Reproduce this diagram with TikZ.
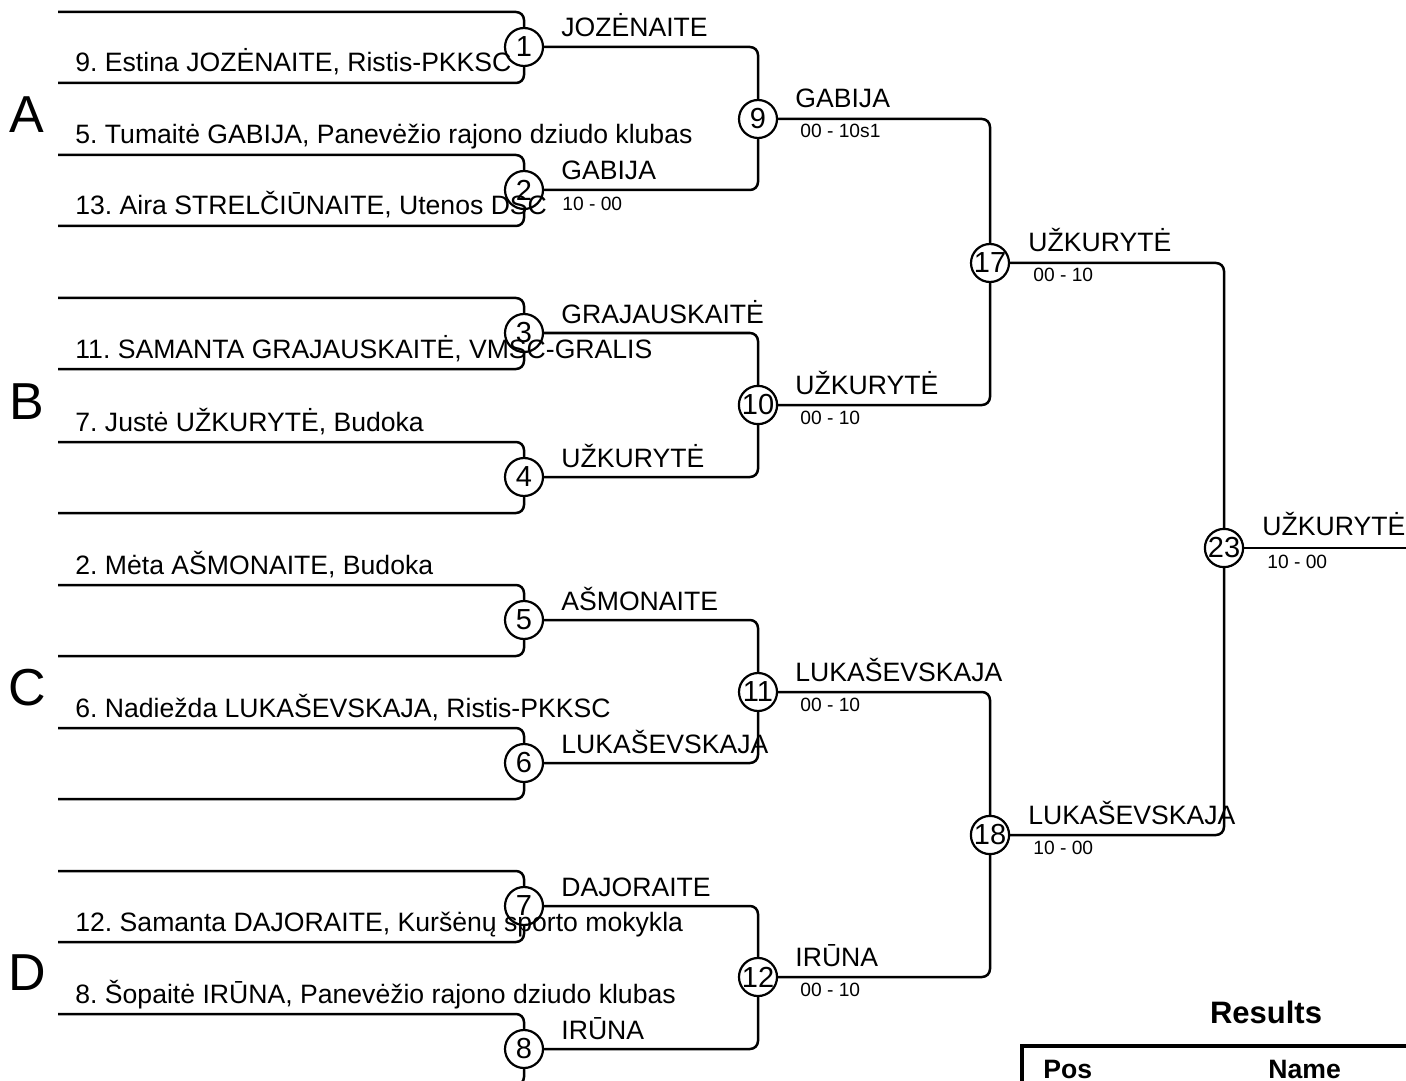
\documentclass[tikz,border=0pt]{standalone}
\usepackage{fontspec}
\setmainfont{Liberation Sans}
\usetikzlibrary{positioning}
\frenchspacing

\tikzset{
  bout/.style={circle, draw, line width=1.1pt, minimum size=19pt, inner sep=0pt, font=\fontsize{14.5}{15}\selectfont},
  player/.style={anchor=base west, inner sep=0pt, font=\fontsize{13.3}{14}\selectfont},
  winner/.style={anchor=base west, inner sep=0pt, font=\fontsize{13.3}{14}\selectfont},
  score/.style={anchor=base west, inner sep=0pt, font=\fontsize{9.6}{10}\selectfont},
  group/.style={anchor=base, inner sep=0pt, font=\fontsize{26}{28}\selectfont},
  wire/.style={line width=1.25pt, rounded corners=4pt},
}

\begin{document}
\begin{tikzpicture}[x=0.5pt, y=-0.5pt]
		\useasboundingbox (0,0) rectangle (1406,1080);

		% pool letters
		\node[group] (ga) at (27,133) {A};
		\node[group] (gb) at (27,419) {B};
		\node[group] (gc) at (27,705) {C};
		\node[group] (gd) at (27,990) {D};

		% slot ends
		\coordinate (s1a) at (58,12);
		\coordinate (s1b) at (58,83);
		\coordinate (s2a) at (58,155);
		\coordinate (s2b) at (58,226);
		\coordinate (s3a) at (58,298);
		\coordinate (s3b) at (58,369);
		\coordinate (s4a) at (58,442);
		\coordinate (s4b) at (58,513);
		\coordinate (s5a) at (58,585);
		\coordinate (s5b) at (58,656);
		\coordinate (s6a) at (58,728);
		\coordinate (s6b) at (58,799);
		\coordinate (s7a) at (58,871);
		\coordinate (s7b) at (58,942);
		\coordinate (s8a) at (58,1014);
		\coordinate (s8b) at (58,1085);
		\coordinate (fin) at (1406,548);

		% bouts
		\node[bout] (b1) at (524,47) {1};
		\node[bout] (b2) at (524,190) {2};
		\node[bout] (b3) at (524,333) {3};
		\node[bout] (b4) at (524,477) {4};
		\node[bout] (b5) at (524,620) {5};
		\node[bout] (b6) at (524,763) {6};
		\node[bout] (b7) at (524,906) {7};
		\node[bout] (b8) at (524,1049) {8};
		\node[bout] (b9) at (758,119) {9};
		\node[bout] (b10) at (758,405) {10};
		\node[bout] (b11) at (758,692) {11};
		\node[bout] (b12) at (758,977) {12};
		\node[bout] (b17) at (990,263) {17};
		\node[bout] (b18) at (990,835) {18};
		\node[bout] (b23) at (1224,548) {23};

		\draw[wire] (s1a) -- (s1a -| b1) -- (b1);
		\draw[wire] (s1b) -- (s1b -| b1) -- (b1);
		\draw[wire] (s2a) -- (s2a -| b2) -- (b2);
		\draw[wire] (s2b) -- (s2b -| b2) -- (b2);
		\draw[wire] (s3a) -- (s3a -| b3) -- (b3);
		\draw[wire] (s3b) -- (s3b -| b3) -- (b3);
		\draw[wire] (s4a) -- (s4a -| b4) -- (b4);
		\draw[wire] (s4b) -- (s4b -| b4) -- (b4);
		\draw[wire] (s5a) -- (s5a -| b5) -- (b5);
		\draw[wire] (s5b) -- (s5b -| b5) -- (b5);
		\draw[wire] (s6a) -- (s6a -| b6) -- (b6);
		\draw[wire] (s6b) -- (s6b -| b6) -- (b6);
		\draw[wire] (s7a) -- (s7a -| b7) -- (b7);
		\draw[wire] (s7b) -- (s7b -| b7) -- (b7);
		\draw[wire] (s8a) -- (s8a -| b8) -- (b8);
		\draw[wire] (s8b) -- (s8b -| b8) -- (b8);

		\draw[wire] (b1) -- (b1 -| b9) -- (b9);
		\draw[wire] (b2) -- (b2 -| b9) -- (b9);
		\draw[wire] (b3) -- (b3 -| b10) -- (b10);
		\draw[wire] (b4) -- (b4 -| b10) -- (b10);
		\draw[wire] (b5) -- (b5 -| b11) -- (b11);
		\draw[wire] (b6) -- (b6 -| b11) -- (b11);
		\draw[wire] (b7) -- (b7 -| b12) -- (b12);
		\draw[wire] (b8) -- (b8 -| b12) -- (b12);
		\draw[wire] (b9) -- (b9 -| b17) -- (b17);
		\draw[wire] (b10) -- (b10 -| b17) -- (b17);
		\draw[wire] (b11) -- (b11 -| b18) -- (b18);
		\draw[wire] (b12) -- (b12 -| b18) -- (b18);
		\draw[wire] (b17) -- (b17 -| b23) -- (b23);
		\draw[wire] (b18) -- (b18 -| b23) -- (b23);
		\draw[wire] (b23) -- (fin);

		% players
		\node[player] (p9) at (75,72) {9. Estina JOZĖNAITE, Ristis-PKKSC};
		\node[player] (p5) at (75,144) {5. Tumaitė GABIJA, Panevėžio rajono dziudo klubas};
		\node[player] (p13) at (75,215) {13. Aira STRELČIŪNAITE, Utenos DSC};
		\node[player] (p11) at (75,358) {11. SAMANTA GRAJAUSKAITĖ, VMSC-GRALIS};
		\node[player] (p7) at (75,431) {7. Justė UŽKURYTĖ, Budoka};
		\node[player] (p2) at (75,574) {2. Mėta AŠMONAITE, Budoka};
		\node[player] (p6) at (75,717) {6. Nadiežda LUKAŠEVSKAJA, Ristis-PKKSC};
		\node[player] (p12) at (75,931) {12. Samanta DAJORAITE, Kuršėnų sporto mokykla};
		\node[player] (p8) at (75,1003) {8. Šopaitė IRŪNA, Panevėžio rajono dziudo klubas};

		% winners and scores
		\node[winner] (w1) at ([shift={(18.5pt,5pt)}]b1.center) {JOZĖNAITE};
		\node[winner] (w2) at ([shift={(18.5pt,5pt)}]b2.center) {GABIJA};
		\node[score] (r2) at ([shift={(19pt,-10.5pt)}]b2.center) {10 - 00};
		\node[winner] (w3) at ([shift={(18.5pt,5pt)}]b3.center) {GRAJAUSKAITĖ};
		\node[winner] (w4) at ([shift={(18.5pt,5pt)}]b4.center) {UŽKURYTĖ};
		\node[winner] (w5) at ([shift={(18.5pt,5pt)}]b5.center) {AŠMONAITE};
		\node[winner] (w6) at ([shift={(18.5pt,5pt)}]b6.center) {LUKAŠEVSKAJA};
		\node[winner] (w7) at ([shift={(18.5pt,5pt)}]b7.center) {DAJORAITE};
		\node[winner] (w8) at ([shift={(18.5pt,5pt)}]b8.center) {IRŪNA};

		\node[winner] (w9) at ([shift={(18.5pt,5.5pt)}]b9.center) {GABIJA};
		\node[score] (r9) at ([shift={(21pt,-9.5pt)}]b9.center) {00 - 10s1};
		\node[winner] (w10) at ([shift={(18.5pt,5.5pt)}]b10.center) {UŽKURYTĖ};
		\node[score] (r10) at ([shift={(21pt,-9.5pt)}]b10.center) {00 - 10};
		\node[winner] (w11) at ([shift={(18.5pt,5.5pt)}]b11.center) {LUKAŠEVSKAJA};
		\node[score] (r11) at ([shift={(21pt,-9.5pt)}]b11.center) {00 - 10};
		\node[winner] (w12) at ([shift={(18.5pt,5.5pt)}]b12.center) {IRŪNA};
		\node[score] (r12) at ([shift={(21pt,-9.5pt)}]b12.center) {00 - 10};

		\node[winner] (w17) at ([shift={(19pt,5.5pt)}]b17.center) {UŽKURYTĖ};
		\node[score] (r17) at ([shift={(21.5pt,-9.5pt)}]b17.center) {00 - 10};
		\node[winner] (w18) at ([shift={(19pt,5.5pt)}]b18.center) {LUKAŠEVSKAJA};
		\node[score] (r18) at ([shift={(21.5pt,-9.5pt)}]b18.center) {10 - 00};

		\node[winner] (w23) at ([shift={(19pt,6.5pt)}]b23.center) {UŽKURYTĖ};
		\node[score] (r23) at ([shift={(21.5pt,-10pt)}]b23.center) {10 - 00};

		% results table
		\node[anchor=base, inner sep=0pt, font=\fontsize{15.5}{17}\selectfont\bfseries] (res) at (1266,1023) {Results};
		\coordinate (tb) at (1022,1095);
		\coordinate (tl) at (1022,1046);
		\coordinate (tr) at (1420,1046);
		\draw[line width=2pt] (tb) -- (tl) -- (tr);
		\node[player, font=\fontsize{13.3}{14}\selectfont\bfseries] (pos) at (1043,1078) {Pos};
		\node[player, font=\fontsize{13.3}{14}\selectfont\bfseries] (nm) at (1268,1078) {Name};
\end{tikzpicture}
\end{document}
